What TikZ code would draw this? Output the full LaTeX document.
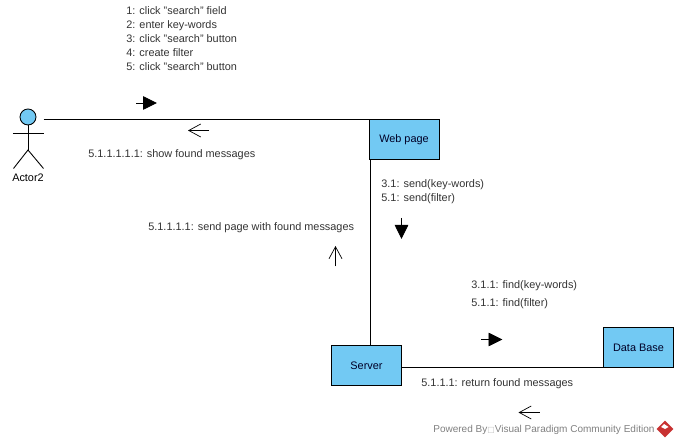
\documentclass[tikz,border=0pt]{standalone}
\usepackage{fontspec}
\setmainfont{Liberation Sans}
\newfontfamily\symbfont{DejaVu Sans}
\usetikzlibrary{arrows.meta,shapes.geometric}
\definecolor{boxblue}{RGB}{114,201,243}
\definecolor{logored}{RGB}{200,50,50}
\tikzset{
	objbox/.style={draw,fill=boxblue,line width=.5pt,minimum width=1.4cm,minimum height=.8cm,inner sep=0pt,text=black!85!blue,font=\fontsize{6.2}{7.6}\selectfont},
	msg/.style={anchor=west,inner sep=0pt,align=left,text=black!80,font=\fontsize{6.2}{7.94}\selectfont},
	link/.style={line width=.5pt},
	filledarrow/.style={line width=.5pt,-{Triangle[length=.28cm,width=.27cm]}},
	openarrow/.style={line width=.4pt,-{Straight Barb[length=.24cm,width=.26cm,line width=.4pt]}}
}
\begin{document}
\begin{tikzpicture}
	\useasboundingbox (0,0) rectangle (13.54,8.92);
	% objects
	\node[objbox] (web) at (8.08,6.13) {Web page};
	\node[objbox] (server) at (7.33,1.61) {Server};
	\node[objbox] (db) at (12.77,1.97) {Data Base};
	% actor
	\node[circle,draw,fill=boxblue,line width=.5pt,minimum size=.32cm,inner sep=0pt] (head) at (.56,6.58) {};
	\coordinate (handl) at (.26,6.26);
	\coordinate (handr) at (.87,6.26);
	\coordinate (hip) at (.56,5.92);
	\coordinate (footl) at (.27,5.55);
	\coordinate (footr) at (.87,5.55);
	\coordinate (actorend) at (.87,6.53);
	\draw[link] (head) -- (hip);
	\draw[link] (handl) -- (handr);
	\draw[link] (footl) -- (hip) -- (footr);
	\node[msg,anchor=center,text=black] (actorname) at (.56,5.36) {Actor2};
	% links
	\draw[link] (actorend) -- (actorend -| web.north west);
	\draw[link] ([xshift=.03cm]web.south west) -- ([xshift=.03cm]web.south west |- server.north);
	\draw[link] (server.east |- db.south west) -- (db.south west);
	% messages
	\node[msg] (msgweb) at (2.52,8.14) {1: click "search" field\\2: enter key-words\\3: click "search" button\\4: create filter\\5: click "search" button};
	\node[msg] (msgactor) at (1.76,5.83) {5.1.1.1.1.1: show found messages};
	\node[msg] (msgserver) at (7.62,5.08) {3.1: send(key-words)\\5.1: send(filter)};
	\node[msg] (msgpage) at (2.96,4.36) {5.1.1.1.1: send page with found messages};
	\node[msg] (msgfind) at (9.42,3.2) {3.1.1: find(key-words)};
	\node[msg] (msgfilter) at (9.42,2.84) {5.1.1: find(filter)};
	\node[msg] (msgreturn) at (8.42,1.24) {5.1.1.1: return found messages};
	% arrows beside the links
	\coordinate (a1) at (2.72,6.86);
	\coordinate (a2) at (3.14,6.86);
	\coordinate (b1) at (4.18,6.31);
	\coordinate (b2) at (3.76,6.31);
	\coordinate (c1) at (8.03,4.56);
	\coordinate (c2) at (8.03,4.14);
	\coordinate (d1) at (6.71,3.59);
	\coordinate (d2) at (6.71,4.0);
	\coordinate (e1) at (9.62,2.13);
	\coordinate (e2) at (10.05,2.13);
	\coordinate (f1) at (10.79,.67);
	\coordinate (f2) at (10.37,.67);
	\draw[filledarrow] (a1) -- (a2);
	\draw[openarrow] (b1) -- (b2);
	\draw[filledarrow] (c1) -- (c2);
	\draw[openarrow] (d1) -- (d2);
	\draw[filledarrow] (e1) -- (e2);
	\draw[openarrow] (f1) -- (f2);
	% watermark
	\node[msg,text=black!50,font=\fontsize{5.7}{7}\selectfont] (powered) at (8.66,.32) {Powered By{\symbfont\fontsize{4.5}{5}\selectfont\textcolor{black!25}{□}}Visual Paradigm Community Edition};
	\node[diamond,fill=logored,minimum size=.34cm,inner sep=0pt] (logo) at (13.3,.34) {};
	\fill[white] (logo.center) -- ++(.07,.04) -- ++(-.09,.06) -- ++(-.06,-.06) -- cycle;
\end{tikzpicture}
\end{document}
